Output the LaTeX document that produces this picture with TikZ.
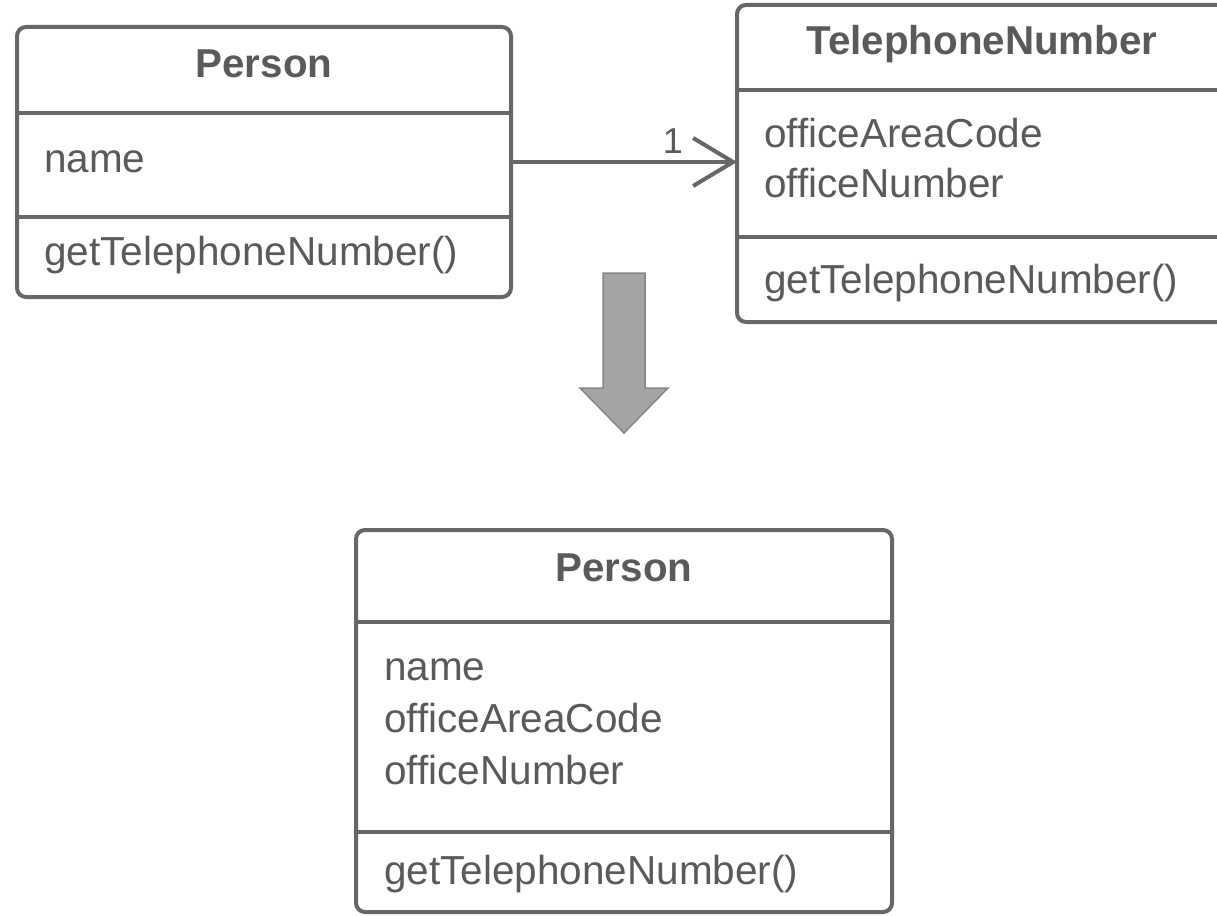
\documentclass[tikz,border=0pt]{standalone}
\usepackage{fontspec}
\setmainfont{Liberation Sans}
\usetikzlibrary{arrows.meta}
\definecolor{umlline}{HTML}{676767}
\definecolor{umltext}{HTML}{5A5A5A}
\definecolor{bigfill}{HTML}{A4A4A4}
\definecolor{bigline}{HTML}{858585}
\begin{document}
\begin{tikzpicture}[x=1pt,y=-1pt,
  classbox/.style={draw=umlline, line width=4pt, rounded corners=9pt, fill=white,
    inner sep=0pt, outer sep=0pt, rectangle},
  divider/.style={draw=umlline, line width=4pt},
  title/.style={text=umltext, inner sep=0pt, anchor=base, font=\fontsize{40.3}{48}\selectfont\bfseries},
  member/.style={text=umltext, inner sep=0pt, anchor=base west, font=\fontsize{40.5}{48}\selectfont},
  mult/.style={text=umltext, inner sep=0pt, font=\fontsize{36}{42}\selectfont},
  assoc/.style={draw=umlline, line width=4pt, -{Straight Barb[length=40pt,width=48pt,line width=4pt]}},
  bigarrow/.style={fill=bigfill, draw=bigline, line width=1.5pt, line join=miter}
]
\useasboundingbox (0,0) rectangle (1217,915);
\clip (0,0) rectangle (1217,915);

% top-left Person
\node[classbox, minimum width=494pt, minimum height=270pt] (p1) at (264,162) {};
\draw[divider] (p1.west |- 0,113) -- (p1.east |- 0,113);
\draw[divider] (p1.west |- 0,217) -- (p1.east |- 0,217);
\node[title] (p1t) at (264,78) {Person};
\node[member] (p1a) at (44,172) {name};
\node[member] (p1m) at (44,265) {getTelephoneNumber()};

% TelephoneNumber
\node[classbox, minimum width=490pt, minimum height=317pt] (tn) at (982,163.5) {};
\draw[divider] (tn.west |- 0,90) -- (tn.east |- 0,90);
\draw[divider] (tn.west |- 0,237) -- (tn.east |- 0,237);
\node[title] (tnt) at (982,55) {TelephoneNumber};
\node[member] (tna1) at (764,147) {officeAreaCode};
\node[member] (tna2) at (764,197) {officeNumber};
\node[member] (tnm) at (764,293) {getTelephoneNumber()};

% association
\draw[assoc] (p1.east) -- (p1.east -| tn.west);
\node[mult] (m1) at (673,141) {1};

% big down arrow
\draw[bigarrow] (603,273) -- (645,273) -- (645,388) -- (668,388) -- (624,433)
  -- (580,388) -- (603,388) -- cycle;

% bottom Person
\node[classbox, minimum width=536pt, minimum height=382pt] (p2) at (624,721) {};
\draw[divider] (p2.west |- 0,622) -- (p2.east |- 0,622);
\draw[divider] (p2.west |- 0,832) -- (p2.east |- 0,832);
\node[title] (p2t) at (624,581) {Person};
\node[member] (p2a1) at (384,680) {name};
\node[member] (p2a2) at (384,732) {officeAreaCode};
\node[member] (p2a3) at (384,784) {officeNumber};
\node[member] (p2m) at (384,884) {getTelephoneNumber()};
\end{tikzpicture}
\end{document}
